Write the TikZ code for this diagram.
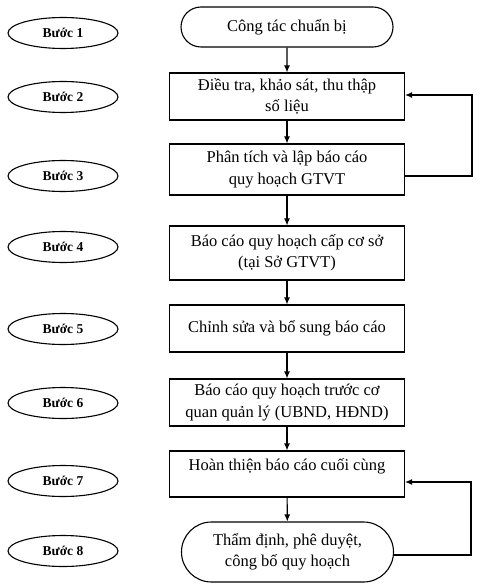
\documentclass[tikz,border=0pt]{standalone}
\usepackage{fontspec}
\setmainfont{Liberation Serif}
\usetikzlibrary{shapes.geometric,shapes.misc,arrows.meta}
\begin{document}
\begin{tikzpicture}[x=1pt,y=-1pt,
  stepell/.style={draw,ellipse,minimum width=110pt,minimum height=31pt,inner sep=0pt,font=\fontsize{13.5}{15}\selectfont\bfseries},
  boxr/.style={draw,rectangle,minimum width=235pt,inner sep=0pt,align=center,font=\fontsize{16.5}{21.5}\selectfont},
  boxs/.style={draw,rounded rectangle,minimum width=212pt,inner sep=0pt,align=center,font=\fontsize{16.5}{21.5}\selectfont},
  arr/.style={-{Latex[length=7pt,width=6pt]},line width=1.1pt},
  every path/.style={line width=1.1pt}]
\useasboundingbox (0,0) rectangle (480,588);
\node[stepell] (e1) at (63,33) {Bước 1};
\node[stepell] (e2) at (63,97) {Bước 2};
\node[stepell] (e3) at (63,176) {Bước 3};
\node[stepell] (e4) at (63,247) {Bước 4};
\node[stepell] (e5) at (63,329) {Bước 5};
\node[stepell] (e6) at (63,403) {Bước 6};
\node[stepell] (e7) at (63,481) {Bước 7};
\node[stepell] (e8) at (63,551) {Bước 8};

\node[boxs,minimum height=40pt] (b1) at (287,27) {Công tác chuẩn bị};
\node[boxr,minimum height=47pt] (b2) at (287,96.5) {Điều tra, khảo sát, thu thập\\số liệu};
\node[boxr,minimum height=51pt] (b3) at (287,169.5) {Phân tích và lập báo cáo\\quy hoạch GTVT};
\node[boxr,minimum height=54pt] (b4) at (287,253) {Báo cáo quy hoạch cấp cơ sở\\(tại Sở GTVT)};
\node[boxr,minimum height=47pt] (b5) at (287,328.5) {Chỉnh sửa và bổ sung báo cáo};
\node[boxr,minimum height=47pt] (b6) at (287,402.5) {Báo cáo quy hoạch trước cơ\\quan quản lý (UBND, HĐND)};
\node[boxr,minimum height=46pt] (b7) at (287,474) {};
\node[font=\fontsize{16.5}{21.5}\selectfont] (t7) at (287,466) {Hoàn thiện báo cáo cuối cùng};
\node[boxs,minimum height=60pt] (b8) at (287.5,552) {Thẩm định, phê duyệt,\\công bố quy hoạch};

\draw[arr] (b1) -- (b2);
\draw[arr] (b2) -- (b3);
\draw[arr] (b3) -- (b4);
\draw[arr] (b4) -- (b5);
\draw[arr] (b5) -- (b6);
\draw[arr] (b6) -- (b7);
\draw[arr] (b7) -- (b8);

\coordinate (f1a) at (472,176);
\coordinate (f1b) at (472,95);
\draw[arr] (b3.east |- f1a) -- (f1a) -- (f1b) -- (b2.east |- f1b);
\coordinate (f2a) at (471,555);
\coordinate (f2b) at (471,482);
\draw[arr] (b8.east |- f2a) -- (f2a) -- (f2b) -- (b7.east |- f2b);
\end{tikzpicture}
\end{document}
